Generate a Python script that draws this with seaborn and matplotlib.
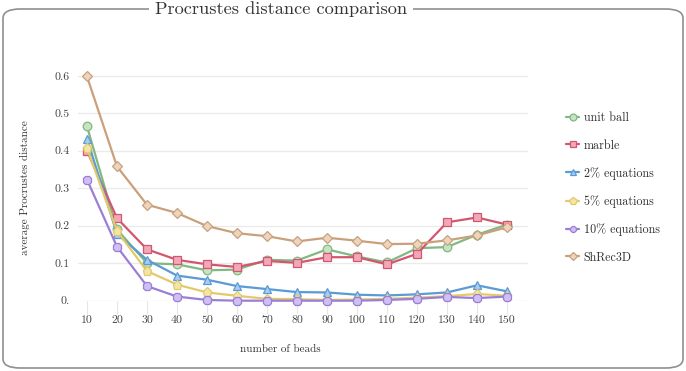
import matplotlib as mpl
import matplotlib.pyplot as plt
import seaborn as sns
from matplotlib.legend_handler import HandlerLine2D
from matplotlib.lines import Line2D
from matplotlib.patches import FancyBboxPatch

beads = [10, 20, 30, 40, 50, 60, 70, 80, 90, 100, 110, 120, 130, 140, 150]

unit_ball = [0.465, 0.190, 0.100, 0.097, 0.081, 0.083, 0.109, 0.107, 0.137, 0.118, 0.102, 0.140, 0.143, 0.176, 0.203]
marble = [0.400, 0.220, 0.137, 0.109, 0.097, 0.090, 0.106, 0.101, 0.116, 0.116, 0.097, 0.125, 0.209, 0.222, 0.203]
eq2 = [0.432, 0.178, 0.109, 0.067, 0.056, 0.039, 0.031, 0.023, 0.022, 0.016, 0.014, 0.017, 0.022, 0.041, 0.025]
eq5 = [0.407, 0.186, 0.079, 0.043, 0.022, 0.013, 0.005, 0.004, 0.002, 0.003, 0.005, 0.008, 0.012, 0.018, 0.013]
eq10 = [0.323, 0.144, 0.039, 0.011, 0.002, 0.000, 0.000, 0.000, 0.000, 0.000, 0.002, 0.005, 0.010, 0.007, 0.011]
shrec = [0.598, 0.358, 0.256, 0.234, 0.199, 0.180, 0.172, 0.158, 0.168, 0.160, 0.151, 0.152, 0.161, 0.174, 0.196]

series = [
    ("unit ball", unit_ball, "#82b882", "#c6e3c2", "o", 6.2),
    ("marble", marble, "#d4566e", "#f0a9b9", "s", 5.8),
    ("2% equations", eq2, "#5b9bd5", "#a9cdf0", "^", 6.2),
    ("5% equations", eq5, "#e3c96b", "#f3e5a8", "p", 6.8),
    ("10% equations", eq10, "#9b7fd6", "#cfbff2", "8", 6.3),
    ("ShRec3D", shrec, "#c9a07a", "#ecd5bf", "D", 5.0),
]
y_ticks = [0, 0.1, 0.2, 0.3, 0.4, 0.5, 0.6]
y_labels = ["0.", "0.1", "0.2", "0.3", "0.4", "0.5", "0.6"]


class MarkerFirst(HandlerLine2D):
    # marker on the left, short line going right
    def get_xdata(self, legend, xdescent, ydescent, width, height, fontsize):
        return [-xdescent + 0.3 * width, -xdescent + width], [-xdescent + 0.3 * width]


sns.set_theme(style="white")
mpl.rcParams.update(
    {
        "font.family": ["cmr10", "DejaVu Serif"],
        "mathtext.fontset": "cm",
        "axes.unicode_minus": False,
    }
)

fig = plt.figure(figsize=(6.86, 3.71), dpi=100)
ax = fig.add_axes([78 / 686, 70.3 / 371, 450 / 686, 228.7 / 371])

for name, vals, line_c, face_c, mk, ms in series:
    sns.lineplot(
        x=beads,
        y=vals,
        ax=ax,
        color=line_c,
        marker=mk,
        markersize=ms,
        markerfacecolor=face_c,
        markeredgecolor=line_c,
        markeredgewidth=0.9,
        linewidth=1.6,
        label=name,
        clip_on=False,
        zorder=3,
    )

ax.set_xlim(7, 157)
ax.set_ylim(0, 0.61)
ax.set_xticks(beads)
ax.set_xticklabels([str(b) for b in beads], fontsize=8.5, color="#444444")
ax.set_yticks(y_ticks)
ax.set_yticklabels(y_labels, fontsize=8.5, color="#444444")
ax.tick_params(axis="x", length=9, width=0.8, color="#e6e6e6", pad=2, bottom=True)
ax.tick_params(axis="y", length=0, pad=6)
ax.grid(axis="y", color="#ebebeb", linewidth=1.0)
for sp in ax.spines.values():
    sp.set_visible(False)
ax.set_xlabel("")
ax.set_ylabel("")

handles, labels = ax.get_legend_handles_labels()
ax.get_legend().remove()
fig.legend(
    handles,
    labels,
    handler_map={Line2D: MarkerFirst()},
    loc="upper left",
    bbox_to_anchor=(550 / 686, 1 - 101 / 371),
    frameon=False,
    fontsize=8.7,
    markerscale=0.8,
    labelspacing=1.28,
    handlelength=1.5,
    handletextpad=0.4,
    labelcolor="#333333",
)

fig.text(280 / 686, 1 - 349 / 371, "number of beads", ha="center", va="center", fontsize=8, color="#333333")
fig.text(25 / 686, 1 - 188 / 371, "average Procrustes distance", ha="center", va="center",
         rotation=90, fontsize=8, color="#333333")

# rounded frame with the title sitting on the top edge
frame = FancyBboxPatch(
    (3 / 686, 3 / 371), 680 / 686, 359 / 371,
    boxstyle="round,pad=0,rounding_size=0.025",
    transform=fig.transFigure, facecolor="none", edgecolor="#909090", linewidth=1.2,
)
fig.patches.append(frame)
fig.text(281 / 686, 1 - 9 / 371, "Procrustes distance comparison", ha="center", va="center",
         fontsize=13.2, color="#333333",
         bbox=dict(boxstyle="square,pad=0.35", facecolor="white", edgecolor="none"))

fig.savefig("out.png", dpi=100)
